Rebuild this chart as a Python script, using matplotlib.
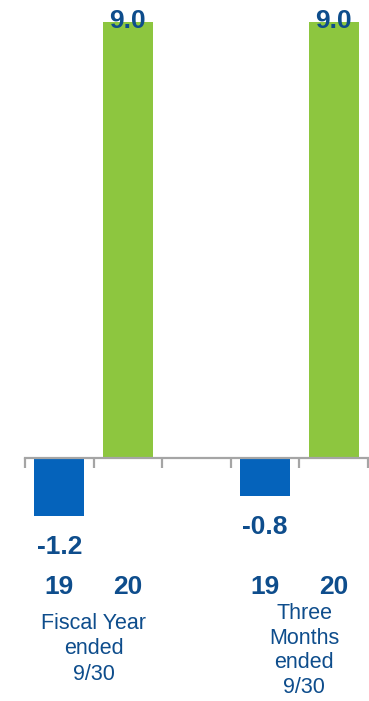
import matplotlib.pyplot as plt

# Data
positions = [0, 1, 3, 4]  # slot 2 left empty between the two groups
years = ['19', '20', '19', '20']
values = [-1.2, 9.0, -0.8, 9.0]
bar_colors = ['#0563BB', '#8DC63F', '#0563BB', '#8DC63F']
groups = ['Fiscal Year\nended\n9/30', 'Three\nMonths\nended\n9/30']
group_x = [0.5, 3.57]

text_color = '#0E4D8C'
axis_color = '#A5A5A5'
plt.rcParams['font.family'] = ['Liberation Sans', 'DejaVu Sans']

W, H = 369, 701
fig = plt.figure(figsize=(W / 100, H / 100), dpi=100)
# axes spans full height; x from 25px to 368px
ax = fig.add_axes([25 / W, 0, 343 / W, 1])
zero_px, px_per_unit = 457.5, 48.4
ax.set_ylim(-(H - zero_px) / px_per_unit, zero_px / px_per_unit)
ax.set_xlim(-0.5, 4.5)

ax.bar(positions, values, width=0.73, color=bar_colors)

# axis at zero with tick marks between categories
for s in ['top', 'right', 'left']:
    ax.spines[s].set_visible(False)
ax.spines['bottom'].set_position(('data', 0))
ax.spines['bottom'].set_color(axis_color)
ax.spines['bottom'].set_linewidth(1.6)
ax.set_xticks([-0.5, 0.5, 1.5, 2.5, 3.5, 4.5])
ax.set_xticklabels([])
ax.tick_params(axis='x', direction='out', length=7, width=1.6, color=axis_color)
ax.set_yticks([])

def px_y(p):
    return (zero_px - p) / px_per_unit

# value labels
for x, v in zip(positions, values):
    if v >= 0:
        ax.annotate(f'{v:.1f}', (x, v), xytext=(0, -6.5), textcoords='offset pixels',
                    ha='center', va='baseline', fontsize=19, fontweight='bold', color=text_color)
    else:
        ax.annotate(f'{v:.1f}', (x, v), xytext=(0, -19), textcoords='offset pixels',
                    ha='center', va='top', fontsize=19, fontweight='bold', color=text_color)

# year labels
for x, y in zip(positions, years):
    ax.text(x, px_y(587), y, ha='center', va='center', fontsize=19,
            fontweight='bold', color=text_color)

# group labels
ax.text(group_x[0], px_y(613), groups[0], ha='center', va='top', fontsize=15.5,
        color=text_color, linespacing=1.27)
ax.text(group_x[1], px_y(603), groups[1], ha='center', va='top', fontsize=15.5,
        color=text_color, linespacing=1.22)

fig.savefig('out.png', dpi=100)
